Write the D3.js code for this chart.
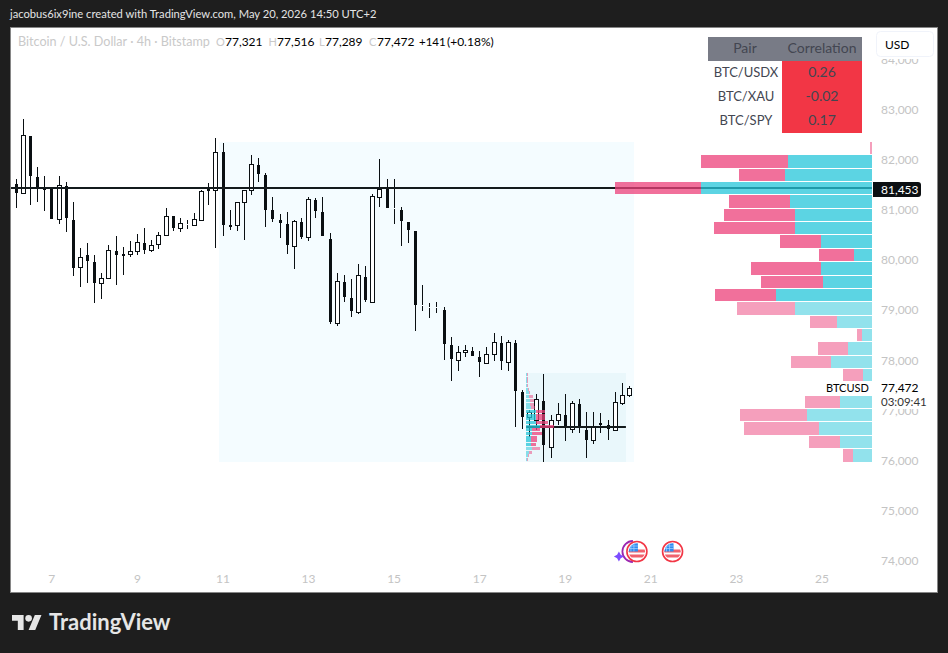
<!DOCTYPE html>
<html><head><meta charset="utf-8">
<style>html,body{margin:0;padding:0;background:#1e1e1e;overflow:hidden}svg{display:block}text{font-family:Lato,"Noto Sans",sans-serif}</style>
<script src="https://cdnjs.cloudflare.com/ajax/libs/d3/7.8.5/d3.min.js"></script>
</head><body><svg id="c" width="948" height="653"></svg>
<script>
const opens=[81540,81541,81355,82499,81681,81455,81455,80836,81501,80823,79879,80125,79985,79559,79659,80198,80138,80138,80198,80364,80218,80338,80517,80903,80657,80730,80717,80816,81435,81421,82173,80723,80717,81175,81421,81920,81714,81023,80823,80743,80298,80790,80477,81222,80982,80443,78774,79586,79266,78994,79685,79193,81288,81434,81049,81022,80783,80603,79107,79067,79067,79027,78329,78036,78182,78202,78089,77976,78156,78362,77996,78369,77391,76886,76832,77212,76300,76839,76932,76660,77152,76633,76433,76766,76733,76640,77178,77321];
const highs=[81588,81641,82838,82499,81874,81694,81475,81694,81574,81182,80258,80357,80118,79759,80318,80497,80278,80397,80544,80657,80417,80584,81056,80903,80856,80823,80956,81415,81561,82452,82352,81022,81175,81421,82120,82053,81754,81282,80943,80976,80823,80856,81275,81255,81281,80563,79758,79725,79645,79938,79905,81335,82039,81640,81640,81082,80783,80603,79526,79167,79187,79087,78482,78309,78329,78282,78202,78282,78562,78508,78428,78428,77431,77032,77351,77750,76932,77165,77351,77212,77251,76992,76992,76972,76832,77391,77571,77516];
const lows=[80889,81069,81355,81129,81189,81009,80850,80737,80577,79712,79493,79573,79174,79254,79659,79533,79732,80078,80131,80151,80178,80238,80504,80610,80577,80650,80703,80796,81129,80271,80510,80630,80610,80431,81328,81588,80690,80790,80464,80151,79839,80437,80397,80863,80503,78748,78714,79187,78887,78947,79187,79193,81082,81062,80743,80304,80364,78608,79007,78867,78967,78030,77617,77817,78096,78109,77697,77976,78010,77830,77810,76700,76653,76500,76633,76000,76074,76733,76414,76573,76573,76074,76354,76573,76433,76613,77132,77289];
const closes=[80900,81368,82512,81707,81448,81428,80850,81515,80870,79872,80078,80012,79573,79659,80218,80131,80111,80198,80377,80231,80331,80517,80909,80670,80756,80743,80836,81395,81408,82173,80730,80703,81175,81421,81934,81747,81029,80850,80770,80331,80796,80484,81235,81009,80503,78794,79599,79286,79007,79719,79226,81295,81434,81062,81062,80803,80623,79127,79127,79087,79087,78349,78049,78182,78222,78109,77990,78143,78382,78010,78382,77418,76892,76985,77245,76334,76826,76946,76693,77172,76693,76433,76719,76753,76653,77185,77325,77472];
const priceTicks=[84000,83000,82000,81000,80000,79000,78000,77000,76000,75000,74000];
const dayLabels=["7","9","11","13","15","17","19","21","23","25"];
const dayBars=[6,18,30,42,54,66,78,90,102,114];
const lastLevel=81453, innerLevel=76693, lastPrice=77472;
const profileTop=82379, profileBin=266.5;
const profileBuy=[0,84,87,171,82,77,77,51,18,51,49,96,77,35,10,24,41,9,30,32,65,53,32,19];
const profileSell=[2,87,46,86,61,71,81,41,35,70,62,61,58,27,5,30,40,20,15,35,67,75,31,10];
const profileVA=[1,11];
const miniTop=77771, miniBin=73.8;
const miniBuy=[1,1,1,1,2,3,3,4,4,5,10,10,10,10,14,6,6,5,5,5,6,3,2,1];
const miniSell=[1,1,1,1,1,1,4,4,4,4,9,9,9,12,14,8,10,6,6,5,8,3,1,1];
const miniVA=[10,19];
const outerRange=[29.5,87.5], innerRange=[72.5,86.5];
const pairs=["BTC/USDX","BTC/XAU","BTC/SPY"];
const corr=["0.26","-0.02","0.17"];
const eventBars=[88,93];

const svg=d3.select("#c");
const grey="#c4c4c4";
const x=d3.scaleLinear().domain([0,120]).range([9.17,864.77]);
const y=d3.scaleLinear().domain([82000,74000]).range([161,561.9]);
const defs=svg.append("defs");
defs.append("clipPath").attr("id","plot").append("rect").attr("x",11).attr("y",28).attr("width",926).attr("height",564);
defs.append("clipPath").attr("id","flag").append("circle").attr("r",8.2);

svg.append("rect").attr("x",10.5).attr("y",27.5).attr("width",927).attr("height",565).attr("fill","#fff").attr("stroke","#868686");
const plot=svg.append("g").attr("clip-path","url(#plot)");

// axes
const yAxis=d3.axisRight(y).tickValues(priceTicks).tickSize(0).tickPadding(0).tickFormat(d3.format(","));
const ya=svg.append("g").attr("transform","translate(881,0)").call(yAxis);
ya.select(".domain").remove();
ya.selectAll("text").attr("fill",grey).attr("font-size",12).attr("dy",null).attr("y",2.6);
const xAxis=d3.axisBottom(d3.scalePoint().domain(dayLabels).range([x(dayBars[0])-.6,x(dayBars[dayBars.length-1])-.6])).tickSize(0).tickPadding(0);
const xa=svg.append("g").attr("transform","translate(0,583)").call(xAxis);
xa.select(".domain").remove();
xa.selectAll("text").attr("fill",grey).attr("font-size",12).attr("dy",null).attr("y",0);

// shaded ranges
const sx=v=>Math.floor(x(v));
plot.append("rect").attr("x",sx(outerRange[0])).attr("width",sx(outerRange[1])-sx(outerRange[0])+1)
 .attr("y",Math.floor(y(profileTop))).attr("height",Math.floor(y(profileTop-24*profileBin))-Math.floor(y(profileTop))).attr("fill","#f4fcff").attr("shape-rendering","crispEdges");
plot.append("rect").attr("x",x(innerRange[0])).attr("width",x(innerRange[1])-x(innerRange[0]))
 .attr("y",y(miniTop)).attr("height",Math.floor(y(profileTop-24*profileBin))-y(miniTop)).attr("fill","#e9f7fb").attr("shape-rendering","crispEdges");

// candles
const idx=d3.range(opens.length);
const ink="#0a0f12";
const g=plot.append("g").attr("shape-rendering","crispEdges");
idx.forEach(i=>{
 const cx=Math.floor(x(i));
 const up=closes[i]>=opens[i];
 const t=y(Math.max(opens[i],closes[i])), b=y(Math.min(opens[i],closes[i]));
 g.append("line").attr("x1",cx+.5).attr("x2",cx+.5).attr("y1",y(highs[i])).attr("y2",y(lows[i])).attr("stroke",ink);
 if(up){
  if(b-t<1.5){ g.append("rect").attr("x",cx).attr("width",1).attr("y",Math.round(t)).attr("height",1).attr("fill","#fff"); }
  else g.append("rect").attr("x",cx-1.5).attr("width",4).attr("y",Math.round(t)+.5).attr("height",Math.max(1,Math.round(b)-Math.round(t))).attr("fill","#fff").attr("stroke",ink);
 } else {
  g.append("rect").attr("x",cx-1).attr("width",3).attr("y",Math.round(t)).attr("height",Math.max(1.5,Math.round(b)-Math.round(t))).attr("fill",ink);
 }
});

// levels
plot.append("rect").attr("x",11).attr("width",861).attr("y",Math.round(y(lastLevel))-1).attr("height",2).attr("fill","#131a1c");
plot.append("rect").attr("x",x(innerRange[0])).attr("width",x(innerRange[1])-x(innerRange[0])).attr("y",Math.round(y(innerLevel))-1).attr("height",2).attr("fill","#131a1c");

// profiles
function rows(n,top,bin,draw){ d3.range(n).forEach(k=>{
  const y0=Math.round(y(top-k*bin)), y1=Math.round(y(top-(k+1)*bin));
  draw(k,y0,y1-y0-1);});}
const vol=d3.scaleLinear().domain([0,100]).range([0,100]);
const p=plot.append("g").attr("shape-rendering","crispEdges");
rows(profileBuy.length,profileTop,profileBin,(k,yy,h)=>{
  const a=(k>=profileVA[0]&&k<=profileVA[1])?.75:.5;
  const bw=vol(profileBuy[k]), sw=vol(profileSell[k]);
  p.append("rect").attr("x",872-bw).attr("width",bw).attr("y",yy).attr("height",h).attr("fill",`rgba(38,198,218,${a})`);
  p.append("rect").attr("x",872-bw-sw).attr("width",sw).attr("y",yy).attr("height",h).attr("fill",`rgba(236,64,122,${a})`);
});
rows(miniBuy.length,miniTop,miniBin,(k,yy,h)=>{
  const a=(k>=miniVA[0]&&k<=miniVA[1])?.75:.5;
  const bw=vol(miniBuy[k]), sw=vol(miniSell[k]), x0=x(innerRange[0]);
  p.append("rect").attr("x",x0).attr("width",bw).attr("y",yy).attr("height",Math.max(h,2.5)).attr("fill",`rgba(38,198,218,${a})`);
  p.append("rect").attr("x",x0+bw).attr("width",sw).attr("y",yy).attr("height",Math.max(h,2.5)).attr("fill",`rgba(236,64,122,${a})`);
});

// event icons
eventBars.forEach((b,i)=>{
 const e=plot.append("g").attr("transform",`translate(${x(b)+.3},551.5)`);
 if(i===0){
  e.append("path").attr("d","M2,-10.5 A10.5,10.5 0 1 0 2,10.5").attr("fill","none").attr("stroke","#9c27b0").attr("stroke-width",1.8).attr("transform","translate(-6,0)");
  e.append("path").attr("d","M-18,0 L-16.2,3.2 L-13,5 L-16.2,6.8 L-18,10 L-19.8,6.8 L-23,5 L-19.8,3.2 Z").attr("fill","#7c4dff");
 }
 e.append("circle").attr("r",10).attr("fill","#fff").attr("stroke","#f23645").attr("stroke-width",1.6);
 const f=e.append("g").attr("clip-path","url(#flag)");
 f.append("rect").attr("x",-9).attr("y",-2).attr("width",18).attr("height",3).attr("fill","#f0616d");
 f.append("rect").attr("x",-9).attr("y",3).attr("width",18).attr("height",3).attr("fill","#f0616d");
 f.append("rect").attr("x",-9).attr("y",-9).attr("width",10).attr("height",9).attr("fill","#2f8cf0");
 f.append("path").attr("d","M-6,-8V0M-3,-8V0M-8,-5.5H1M-8,-3H1").attr("stroke","#a9d3ff").attr("stroke-width",.7);
});

// covers / labels
const cover=(a,b,c,d)=>svg.append("rect").attr("x",a).attr("y",b).attr("width",c).attr("height",d).attr("fill","#fff");
cover(873,28,64,31);
svg.append("rect").attr("x",876.5).attr("y",31.5).attr("width",57).attr("height",25).attr("rx",4).attr("fill","#fff").attr("stroke","#f0f3fa");
const T=(s,a,b,o={})=>svg.append("text").text(s).attr("x",a).attr("y",b).attr("font-size",o.size||12).attr("fill",o.fill||"#000").attr("text-anchor",o.anchor||"start").attr("font-weight",o.weight||400);
T("USD",885,49);
// table
const tx=708, colA=74, colB=80;
svg.append("rect").attr("x",tx).attr("y",37).attr("width",colA+colB).attr("height",24).attr("fill","#787b86");
T("Pair",tx+colA/2,53,{size:14,fill:"#434651",anchor:"middle"});
T("Correlation",tx+colA+colB/2,53,{size:14,fill:"#434651",anchor:"middle"});
pairs.forEach((n,i)=>{
 svg.append("rect").attr("x",tx+colA).attr("y",61+24*i).attr("width",colB).attr("height",24).attr("fill","#f23645");
 T(n,tx+colA/2+1,77+24*i,{size:13,fill:"#434651",anchor:"middle"});
 T(corr[i],tx+colA+colB/2,77+24*i,{size:14,fill:"#434651",anchor:"middle"});
});
// last level label
svg.append("path").attr("d","M873,182H918a3,3 0 0 1 3,3V194a3,3 0 0 1 -3,3H873Z").attr("fill","#0b0f12");
T(d3.format(",")(lastLevel),881,193.5,{fill:"#fff"});
// price label
cover(822,381,51,15);
cover(875,380,56,29);
T("BTCUSD",826,392,{size:11});
T(d3.format(",")(lastPrice),881,391.5);
T("03:09:41",881,406,{fill:"#333",size:11.5});

// header
T("jacobus6ix9ine created with TradingView.com, May 20, 2026 14:50 UTC+2",10,18,{fill:"#e4e4e4",size:11.2});
T("Bitcoin / U.S. Dollar · 4h · Bitstamp",18,46,{fill:"#c9c9c9",size:12.6});
[["O",216,"77,321",225],["H",268.5,"77,516",277],["L",319,"77,289",325],["C",369,"77,472",377]].forEach(d=>{
 T(d[0],d[1],46,{fill:"#c9c9c9",size:11}); T(d[2],d[3],46);
});
T("+141",419,46,{size:11.5}); T("(+0.18%)",447,46);

// logo
const logo=svg.append("g").attr("transform","translate(12,611.7) scale(.83)").attr("fill","#e6e6e6");
logo.append("path").attr("d","M14 22H7V11H0V4h14v18zM28 22h-8l7.5-18h8L28 22z");
logo.append("circle").attr("cx",20).attr("cy",8).attr("r",4);
T("TradingView",49,630,{size:22,fill:"#e6e6e6",weight:700});
</script></body></html>
